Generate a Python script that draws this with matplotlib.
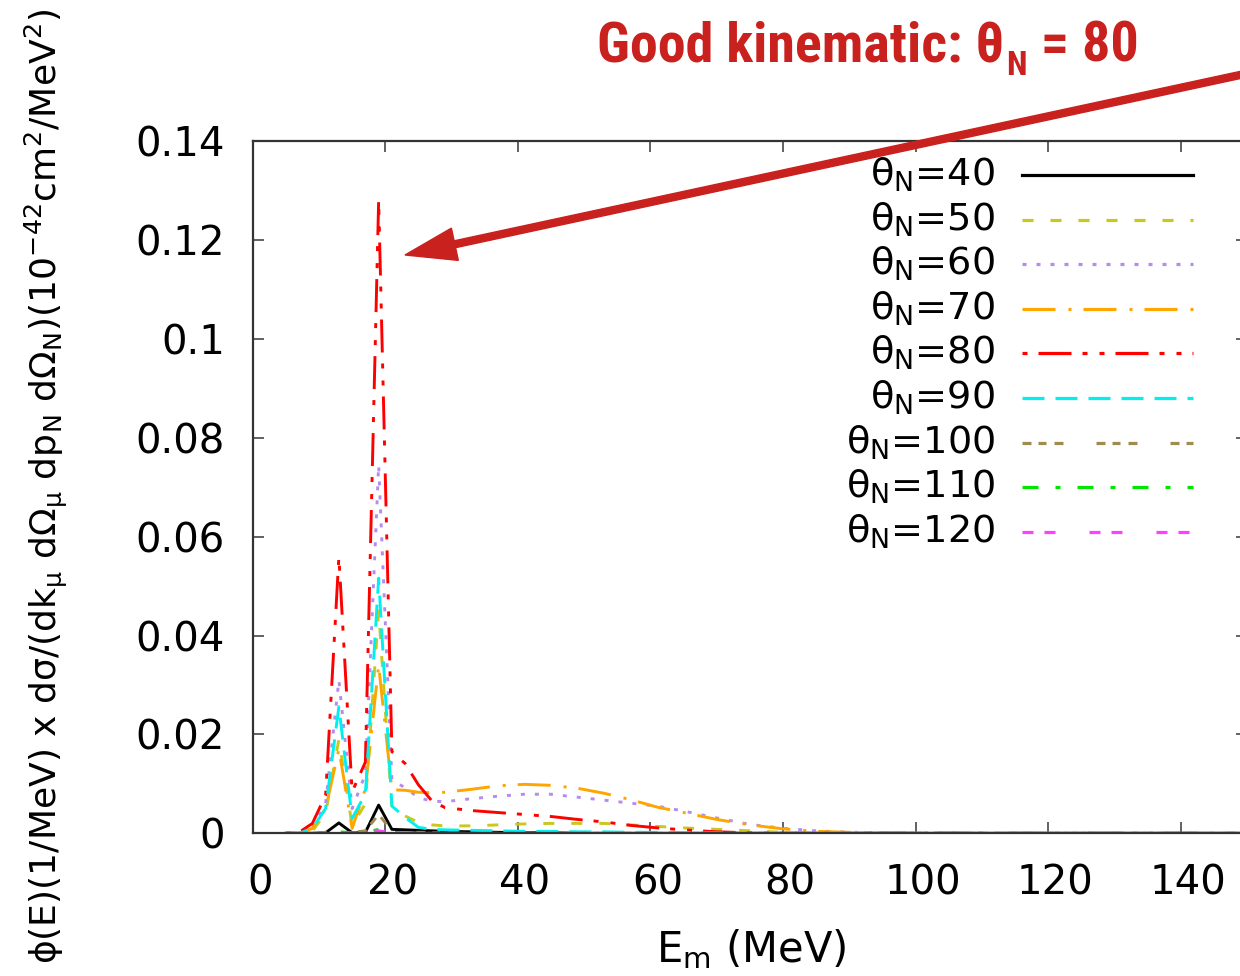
import matplotlib
matplotlib.use('Agg')
import matplotlib.pyplot as plt
from matplotlib.lines import Line2D
from matplotlib.patches import FancyArrow
from matplotlib.transforms import ScaledTranslation
from matplotlib import font_manager

plt.rcParams['font.family'] = ['DejaVu Sans']
plt.rcParams['mathtext.fontset'] = 'custom'
plt.rcParams['mathtext.rm'] = 'DejaVu Sans'
plt.rcParams['mathtext.it'] = 'DejaVu Sans:italic'
plt.rcParams['mathtext.bf'] = 'DejaVu Sans:bold'
plt.rcParams['lines.scale_dashes'] = False

# ---------------- data ----------------
em = [5, 7, 9, 11, 13, 15, 17, 19, 21, 23, 25, 27, 29, 33, 37, 41, 45, 49, 53, 57, 61,
      65, 70, 75, 80, 85, 90, 100, 110, 120, 130, 140, 150]

theta_labels = ['40', '50', '60', '70', '80', '90', '100', '110', '120']

th40 = [0, 0, 0, 0.0001, 0.0021, 0.0001, 0.0002, 0.0057, 0.0008, 0.0007, 0.0006, 0.0005, 0.0004,
        0.0003, 0.0002, 0.0001, 0.0001, 0, 0, 0, 0, 0, 0, 0, 0, 0, 0, 0, 0, 0, 0, 0, 0]
th50 = [0, 0, 0.0005, 0.004, 0.019, 0.0015, 0.006, 0.045, 0.005, 0.0035, 0.0022, 0.0017, 0.0015,
        0.0015, 0.0017, 0.0019, 0.002, 0.002, 0.002, 0.0017, 0.0014, 0.0011, 0.0008, 0.0005,
        0.0002, 0.0001, 0, 0, 0, 0, 0, 0, 0]
th60 = [0, 0, 0.001, 0.006, 0.031, 0.005, 0.012, 0.0745, 0.0108, 0.0092, 0.0072, 0.0065, 0.0064,
        0.0070, 0.0075, 0.0079, 0.0079, 0.0073, 0.0067, 0.0061, 0.0055, 0.0045, 0.0031, 0.0018,
        0.0010, 0.0005, 0.0002, 0.0001, 0, 0, 0, 0, 0]
th70 = [0, 0, 0.001, 0.005, 0.017, 0.001, 0.009, 0.034, 0.0088, 0.0087, 0.0083, 0.0082, 0.0083,
        0.0089, 0.0096, 0.0099, 0.0097, 0.0091, 0.0081, 0.0068, 0.0053, 0.0042, 0.0028, 0.0017,
        0.0009, 0.0004, 0.0002, 0.0001, 0, 0, 0, 0, 0]
th80 = [0, 0.0002, 0.002, 0.0077, 0.0559, 0.0084, 0.0144, 0.128, 0.0165, 0.0141, 0.0098, 0.0066,
        0.0052, 0.0046, 0.0042, 0.0038, 0.0034, 0.0028, 0.0023, 0.0016, 0.0011, 0.0007, 0.0003,
        0.0001, 0, 0, 0, 0, 0, 0, 0, 0, 0]
th90 = [0, 0, 0.001, 0.005, 0.0256, 0.003, 0.008, 0.0516, 0.0055, 0.0032, 0.0012, 0.0008, 0.0007,
        0.0006, 0.0005, 0.0004, 0.0004, 0.0003, 0.0003, 0.0002, 0.0002, 0.0001, 0.0001, 0, 0, 0,
        0, 0, 0, 0, 0, 0, 0]
th100 = [0, 0, 0, 0.0002, 0.0012, 0.0002, 0.0005, 0.0038, 0.0005, 0.0003, 0.0002, 0.0001, 0.0001,
         0, 0, 0, 0, 0, 0, 0, 0, 0, 0, 0, 0, 0, 0, 0, 0, 0, 0, 0, 0]
th110 = [0, 0, 0, 0.0001, 0.0003, 0.0001, 0.0002, 0.0008, 0.0002, 0.0001, 0, 0, 0,
         0, 0, 0, 0, 0, 0, 0, 0, 0, 0, 0, 0, 0, 0, 0, 0, 0, 0, 0, 0]
th120 = [0, 0, 0, 0, 0.0002, 0, 0.0001, 0.0005, 0.0001, 0, 0, 0, 0,
         0, 0, 0, 0, 0, 0, 0, 0, 0, 0, 0, 0, 0, 0, 0, 0, 0, 0, 0, 0]

series = [th40, th50, th60, th70, th80, th90, th100, th110, th120]

xticks = [0, 20, 40, 60, 80, 100, 120, 140]
yticks = [0, 0.02, 0.04, 0.06, 0.08, 0.1, 0.12, 0.14]
ytick_labels = ['0', '0.02', '0.04', '0.06', '0.08', '0.1', '0.12', '0.14']

# ---------------- styles ----------------
colors = ['#000000', '#c8c81e', '#b48cf0', '#ffa500', '#ff0000', '#00f0f0',
          '#a08c50', '#00e600', '#ff40ff']
dash_px = [None, [11, 17], [4, 10], [33, 13, 3, 12], [5, 11, 33, 11, 5, 12], [22, 11],
           [9, 7, 8, 8, 9, 33], [16, 17, 5, 17], [11, 11, 11, 34]]
LW = 2.1

W, H = 1240, 976
fig = plt.figure(figsize=(W / 100, H / 100), dpi=100)


def fx(px):
    return px / W


def fy(py):
    return 1 - py / H


ax = fig.add_axes([fx(252.7), fy(833.3), fx(1247.1) - fx(252.7), fy(141) - fy(833.3)])


def style_kwargs(i, lw=LW):
    kw = dict(color=colors[i], lw=lw)
    if dash_px[i] is not None:
        kw['dashes'] = [d * 0.72 for d in dash_px[i]]
        kw['dash_capstyle'] = 'butt'
    return kw


for i, ys in enumerate(series):
    ax.plot(em, ys, **style_kwargs(i))

ax.set_xlim(0, 150)
ax.set_ylim(0, 0.14)
ax.set_xticks(xticks)
ax.set_xticklabels([str(v) for v in xticks])
ax.set_yticks(yticks)
ax.set_yticklabels(ytick_labels)
ax.tick_params(direction='in', length=8, width=1.3, color='#555555', top=True, right=True,
               labelsize=29)
ax.tick_params(axis='x', pad=22)
ax.tick_params(axis='y', pad=20)
for s in ax.spines.values():
    s.set_linewidth(1.6)
    s.set_color('#333333')

offset = ScaledTranslation(7 / 100, 0, fig.dpi_scale_trans)
for lab in ax.get_xticklabels():
    lab.set_transform(lab.get_transform() + offset)

# axis labels
fig.text(fx(751), fy(962), r'E$_\mathrm{m}$ (MeV)', ha='center', va='baseline', fontsize=30)
ylab = (r'ϕ(E)(1/MeV) x dσ/(dk$_\mathrm{μ}$ dΩ$_\mathrm{μ}$ dp$_\mathrm{N}$ dΩ$_\mathrm{N}$)'
        r'(10$^{\mathrm{-42}}$cm$^\mathrm{2}$/MeV$^\mathrm{2}$)')
fig.text(fx(46), fy(486.5), ylab, rotation=90, ha='center', va='center', fontsize=26)

# legend (manual, gnuplot style: right-aligned text, sample on the right)
for i, lab in enumerate(theta_labels):
    yl = 175 + 44.6 * i
    fig.add_artist(Line2D([fx(1022.3), fx(1193.3)], [fy(yl), fy(yl)], **style_kwargs(i, 2.3)))
    fig.text(fx(995), fy(yl + 10.7), 'θ$_\\mathrm{N}$=' + lab, ha='right', va='baseline',
             fontsize=27.5)

# annotation
red = '#c9211e'
names = {f.name for f in font_manager.fontManager.ttflist}
fam = [n for n in ['Roboto Condensed', 'Liberation Sans Narrow', 'Open Sans Condensed',
                   'Roboto', 'Liberation Sans'] if n in names] + ['DejaVu Sans']
r = fig.canvas.get_renderer()


def draw_title(size):
    t1 = fig.text(fx(597), fy(62), 'Good kinematic: θ', fontsize=size, fontweight='bold',
                  color=red, family=fam, va='baseline', ha='left')
    bb = t1.get_window_extent(r)
    t2 = fig.text((bb.x1 + 2) / W, fy(62 + 12 * size / 37), 'N', fontsize=size * 0.6,
                  fontweight='bold', color=red, family=fam, va='baseline', ha='left')
    bb2 = t2.get_window_extent(r)
    t3 = fig.text((bb2.x1 + 1) / W, fy(62), ' = 80', fontsize=size, fontweight='bold',
                  color=red, family=fam, va='baseline', ha='left')
    bb3 = t3.get_window_extent(r)
    return [t1, t2, t3], bb3.x1 - bb.x0


size = 37
texts, width = draw_title(size)
if abs(width - 541) > 4:
    for t in texts:
        t.remove()
    size = size * 541 / width
    texts, width = draw_title(size)

arrow = FancyArrow(12.6, (H - 70.7) / 100, 4.05 - 12.6, (H - 255) / 100 - (H - 70.7) / 100,
                   width=0.07, head_width=0.33, head_length=0.51, length_includes_head=True,
                   color=red, transform=fig.dpi_scale_trans, zorder=5)
fig.add_artist(arrow)

fig.savefig('out.png', dpi=100)
